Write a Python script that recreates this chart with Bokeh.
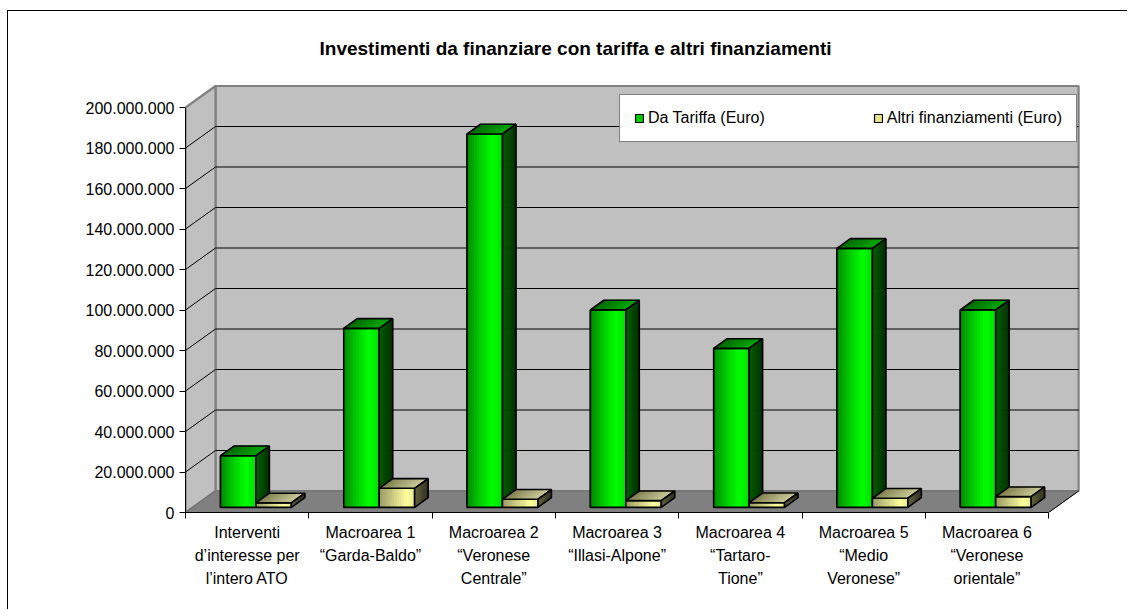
import numpy as np
from bokeh.plotting import figure
from bokeh.models import (ColumnDataSource, Range1d, FixedTicker, CustomJSTickFormatter,
                          Legend, LegendItem)
from bokeh.embed import file_html
from bokeh.resources import INLINE

# ---------------- data ----------------
title_text = "Investimenti da finanziare con tariffa e altri finanziamenti"
categories = [
    "Interventi\nd\u2019interesse per\nl\u2019intero ATO",
    "Macroarea 1\n\u201cGarda-Baldo\u201d",
    "Macroarea 2\n\u201cVeronese\nCentrale\u201d",
    "Macroarea 3\n\u201cIllasi-Alpone\u201d",
    "Macroarea 4\n\u201cTartaro-\nTione\u201d",
    "Macroarea 5\n\u201cMedio\nVeronese\u201d",
    "Macroarea 6\n\u201cVeronese\norientale\u201d",
]
series_names = ["Da Tariffa (Euro)", "Altri finanziamenti (Euro)"]
da_tariffa = [25.5e6, 88.4e6, 184.4e6, 97.5e6, 78.5e6, 127.9e6, 97.5e6]
altri_finanziamenti = [2.2e6, 9.4e6, 4.0e6, 3.3e6, 2.3e6, 4.5e6, 5.3e6]
y_ticks = [0, 20e6, 40e6, 60e6, 80e6, 100e6, 120e6, 140e6, 160e6, 180e6, 200e6]

# ---------------- layout / style ----------------
FONT = "Liberation Sans"
N = len(categories)
Y_MAX = y_ticks[-1]
FRAME_W, FRAME_H = 895, 429
CAT_PX = 123.3          # pixels per category
PX_PER_EURO = 405 / Y_MAX
X_END = FRAME_W / CAT_PX
Y_END = FRAME_H / PX_PER_EURO
DX = 30 / CAT_PX        # depth offset in x (category units)
DY = 21.5 / PX_PER_EURO  # depth offset in y (euro units)
F0, F1 = 0.24, 0.69     # bar depth (front, back) as fraction of floor depth
BAR_W = 0.2875
GROUP_LEFT = 0.225

GREEN = dict(front=[(0, (0, 0x85, 0)), (0.35, (0, 0xc8, 0)), (0.72, (0, 0xff, 0)), (1, (0, 0xe0, 0))],
             top=[(0, (0, 0x66, 0)), (1, (0, 0xa8, 0))],
             side=[(0, (0, 0x60, 0)), (1, (0, 0x30, 0))],
             mid="#00cc00")
YELLOW = dict(front=[(0, (0x99, 0x99, 0x66)), (0.8, (0xff, 0xff, 0xa0)), (1, (0xea, 0xea, 0x90))],
              top=[(0, (0x80, 0x80, 0x50)), (1, (0xcc, 0xcc, 0x99))],
              side=[(0, (0x66, 0x66, 0x40)), (1, (0x30, 0x30, 0x20))],
              mid="#e6e68c")
SCHEMES = [GREEN, YELLOW]


def grad(stops, t):
    for (t0, c0), (t1, c1) in zip(stops[:-1], stops[1:]):
        if t <= t1:
            u = 0 if t1 == t0 else (t - t0) / (t1 - t0)
            c = [round(a + (b - a) * u) for a, b in zip(c0, c1)]
            return "#%02x%02x%02x" % tuple(c)
    return "#%02x%02x%02x" % stops[-1][1]


p = figure(frame_width=FRAME_W, frame_height=FRAME_H,
           x_range=Range1d(0, X_END), y_range=Range1d(0, Y_END),
           output_backend="svg", toolbar_location=None,
           min_border_left=177, min_border_right=47, min_border_top=72, min_border_bottom=97,
           background_fill_color="white", border_fill_color="white", outline_line_color=None)
p.margin = (10, 0, 0, 7)
p.styles = {"border-left": "1px solid black", "border-top": "1px solid black"}
p.grid.visible = False

# title
p.title.text = title_text
p.title.align = "left"
p.title.offset = 134
p.title.standoff = 49
p.title.text_font = FONT
p.title.text_font_size = "19px"
p.title.text_font_style = "bold"
p.title.text_color = "black"

# ---------------- walls, floor, gridlines ----------------
scene = dict(xs=[], ys=[], fc=[], lc=[], lw=[])
def add_poly(xs, ys, fc, lc, lw):
    scene["xs"].append(list(xs)); scene["ys"].append(list(ys))
    scene["fc"].append(fc); scene["lc"].append(lc); scene["lw"].append(lw)

add_poly([DX, N + DX, N + DX, DX], [DY, DY, Y_MAX + DY, Y_MAX + DY], "#c0c0c0", "#808080", 2.2)
add_poly([0, DX, DX, 0], [0, DY, Y_MAX + DY, Y_MAX], "#c0c0c0", "#808080", 2.2)
add_poly([0, N, N + DX, DX], [0, 0, DY, DY], "#808080", "#6e6e6e", 1)
p.patches(xs="xs", ys="ys", fill_color="fc", line_color="lc", line_width="lw",
          source=ColumnDataSource(scene))

grid_xs, grid_ys = [], []
for v in y_ticks[1:-1]:
    grid_xs.append([DX, N + DX]); grid_ys.append([v + DY, v + DY])
    grid_xs.append([0, DX]); grid_ys.append([v, v + DY])
grid_xs.append([N, N + DX]); grid_ys.append([0, DY])
p.multi_line(xs=grid_xs, ys=grid_ys, line_color="black", line_width=1)

# ---------------- bars ----------------
values = [da_tariffa, altri_finanziamenti]
legend_renderers = []
for s, vals in enumerate(values):
    lefts = [i + GROUP_LEFT + s * BAR_W + F0 * DX for i in range(N)]
    r = p.quad(left=lefts, right=[l + BAR_W for l in lefts],
               bottom=[F0 * DY] * N, top=[v + F0 * DY for v in vals],
               fill_color=SCHEMES[s]["mid"], line_color="black", line_width=1.2)
    legend_renderers.append(r)

bars = dict(xs=[], ys=[], fc=[], fa=[], lc=[], lw=[])
NS = 14

def pt(x, y, f):
    return (x + f * DX, y + f * DY)

def add_face(P0, P1, P2, P3, stops):
    for k in range(NS):
        a, b = k / NS, (k + 1) / NS
        q = [tuple(P0[j] + (P1[j] - P0[j]) * a for j in range(2)),
             tuple(P0[j] + (P1[j] - P0[j]) * b for j in range(2)),
             tuple(P3[j] + (P2[j] - P3[j]) * b for j in range(2)),
             tuple(P3[j] + (P2[j] - P3[j]) * a for j in range(2))]
        c = grad(stops, (a + b) / 2)
        bars["xs"].append([u[0] for u in q]); bars["ys"].append([u[1] for u in q])
        bars["fc"].append(c); bars["fa"].append(1); bars["lc"].append(c); bars["lw"].append(0.8)
    bars["xs"].append([P0[0], P1[0], P2[0], P3[0]]); bars["ys"].append([P0[1], P1[1], P2[1], P3[1]])
    bars["fc"].append("black"); bars["fa"].append(0); bars["lc"].append("black"); bars["lw"].append(1.6)

for i in range(N):
    for s, vals in enumerate(values):
        v = vals[i]
        sch = SCHEMES[s]
        x0 = i + GROUP_LEFT + s * BAR_W
        x1 = x0 + BAR_W
        add_face(pt(x0, 0, F0), pt(x1, 0, F0), pt(x1, v, F0), pt(x0, v, F0), sch["front"])
        add_face(pt(x0, v, F0), pt(x1, v, F0), pt(x1, v, F1), pt(x0, v, F1), sch["top"])
        add_face(pt(x1, 0, F0), pt(x1, 0, F1), pt(x1, v, F1), pt(x1, v, F0), sch["side"])

p.patches(xs="xs", ys="ys", fill_color="fc", fill_alpha="fa", line_color="lc", line_width="lw",
          source=ColumnDataSource(bars))

# ---------------- axes ----------------
ya = p.yaxis[0]
ya.ticker = FixedTicker(ticks=y_ticks)
ya.bounds = (0, Y_MAX)
ya.formatter = CustomJSTickFormatter(
    code="return Math.round(tick).toString().replace(/\\B(?=(\\d{3})+(?!\\d))/g, '.');")
ya.major_tick_out = 6
ya.major_tick_in = 0
ya.minor_tick_line_color = None
ya.axis_line_color = "black"
ya.major_tick_line_color = "black"
ya.major_label_standoff = 5
ya.major_label_text_font = FONT
ya.major_label_text_font_size = "16px"
ya.major_label_text_color = "black"

xa = p.xaxis[0]
centers = [i + 0.5 for i in range(N)]
xa.ticker = FixedTicker(ticks=centers, minor_ticks=list(range(N + 1)))
xa.bounds = (0, N)
xa.major_label_overrides = {c: lab for c, lab in zip(centers, categories)}
xa.major_tick_line_color = None
xa.minor_tick_line_color = "black"
xa.minor_tick_out = 6
xa.minor_tick_in = 0
xa.axis_line_color = "black"
xa.major_label_standoff = 5
xa.major_label_text_font = FONT
xa.major_label_text_font_size = "16px"
xa.major_label_text_color = "black"
xa.major_label_text_line_height = 1.37

# ---------------- legend ----------------
legend = Legend(items=[LegendItem(label=series_names[s], renderers=[legend_renderers[s]])
                       for s in range(2)],
                orientation="horizontal", location=(434, 370),
                glyph_width=10, glyph_height=10, label_standoff=4, spacing=108, padding=14,
                label_text_font=FONT, label_text_font_size="16px", label_text_color="black",
                border_line_color="black", border_line_width=1,
                background_fill_color="white", background_fill_alpha=1)
p.add_layout(legend)

open("out.html", "w").write(file_html(p, INLINE))
